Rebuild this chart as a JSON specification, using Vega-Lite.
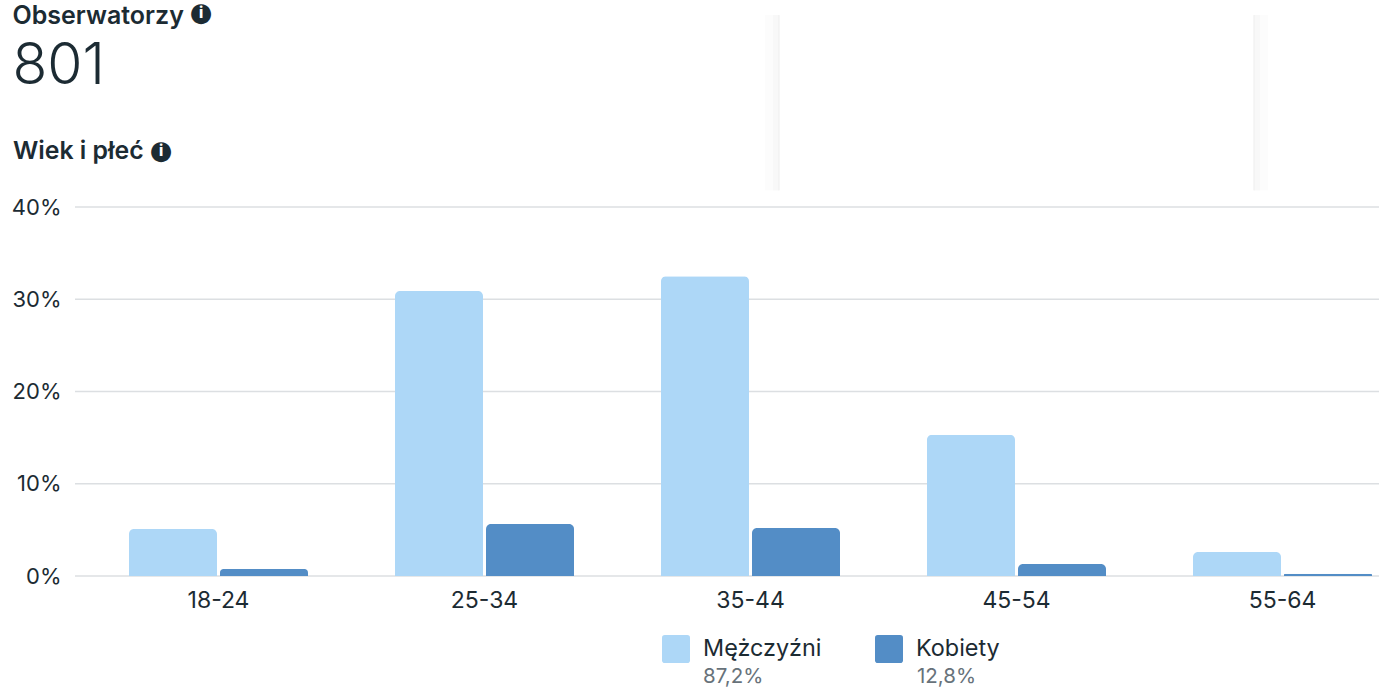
{
"$schema":"https://vega.github.io/schema/vega-lite/v6.json",
"width":1304,"height":369,
"autosize":{"type":"none"},
"padding":{"left":75,"top":207,"right":0,"bottom":120},
"background":"#ffffff",
"config":{"view":{"stroke":null},"font":"Inter"},
"title":{"text":"Obserwatorzy","subtitle":"801","anchor":"start","frame":"group","dx":-62.5,"offset":-95,"font":"Inter","fontSize":25,"fontWeight":600,"color":"#1c2b33","subtitleFont":"Inter","subtitleFontSize":57,"subtitleFontWeight":300,"subtitleColor":"#1c2b33","subtitlePadding":10},
"layer":[
{"data":{"values":[{"tick":0},{"tick":0.1},{"tick":0.2},{"tick":0.3},{"tick":0.4}]},
 "mark":{"type":"rule","color":"#dcdfe2","strokeWidth":1.5},
 "encoding":{"y":{"field":"tick","type":"quantitative"}}},
{"data":{"values":[{"panel":"left edge"}]},"mark":{"type":"rule","color":"#000000","opacity":0.012,"strokeWidth":14},
 "encoding":{"x":{"datum":"35-44","type":"nominal","bandPosition":0.58},"y":{"datum":0.418,"type":"quantitative"},"y2":{"datum":0.608}}},
{"data":{"values":[{"panel":"left edge"}]},"mark":{"type":"rule","color":"#000000","opacity":0.015,"strokeWidth":6},
 "encoding":{"x":{"datum":"35-44","type":"nominal","bandPosition":0.595},"y":{"datum":0.418,"type":"quantitative"},"y2":{"datum":0.608}}},
{"data":{"values":[{"panel":"left edge"}]},"mark":{"type":"rule","color":"#ececec","strokeWidth":1},
 "encoding":{"x":{"datum":"35-44","type":"nominal","bandPosition":0.607},"y":{"datum":0.418,"type":"quantitative"},"y2":{"datum":0.608}}},
{"data":{"values":[{"panel":"right edge"}]},"mark":{"type":"rule","color":"#000000","opacity":0.012,"strokeWidth":14},
 "encoding":{"x":{"datum":"55-64","type":"nominal","bandPosition":0.42},"y":{"datum":0.418,"type":"quantitative"},"y2":{"datum":0.608}}},
{"data":{"values":[{"panel":"right edge"}]},"mark":{"type":"rule","color":"#000000","opacity":0.015,"strokeWidth":6},
 "encoding":{"x":{"datum":"55-64","type":"nominal","bandPosition":0.405},"y":{"datum":0.418,"type":"quantitative"},"y2":{"datum":0.608}}},
{"data":{"values":[{"panel":"right edge"}]},"mark":{"type":"rule","color":"#ececec","strokeWidth":1},
 "encoding":{"x":{"datum":"55-64","type":"nominal","bandPosition":0.393},"y":{"datum":0.418,"type":"quantitative"},"y2":{"datum":0.608}}},
{"data":{"values":[
{"age":"18-24","gender":"Mężczyźni","share":0.051},
{"age":"18-24","gender":"Kobiety","share":0.0075},
{"age":"25-34","gender":"Mężczyźni","share":0.309},
{"age":"25-34","gender":"Kobiety","share":0.0565},
{"age":"35-44","gender":"Mężczyźni","share":0.325},
{"age":"35-44","gender":"Kobiety","share":0.052},
{"age":"45-54","gender":"Mężczyźni","share":0.153},
{"age":"45-54","gender":"Kobiety","share":0.013},
{"age":"55-64","gender":"Mężczyźni","share":0.026},
{"age":"55-64","gender":"Kobiety","share":0.0025}
]},
"mark":{"type":"bar","cornerRadiusTopLeft":5,"cornerRadiusTopRight":5},
"encoding":{
"x":{"field":"age","type":"nominal","sort":null,
 "scale":{"domain":["18-24","25-34","35-44","45-54","55-64"],"range":[10.5,1340.5],"paddingInner":0,"paddingOuter":0},
 "axis":{"title":null,"labelAngle":0,"labelAlign":"center","labelBaseline":"top","ticks":false,"domain":false,"grid":false,"labelFont":"Inter","labelFontSize":23,"labelColor":"#1c2b33","labelPadding":13,"labelFontWeight":400}},
"xOffset":{"field":"gender","type":"nominal","sort":["Mężczyźni","Kobiety"],"scale":{"domain":["Mężczyźni","Kobiety"],"paddingInner":0.033,"paddingOuter":0.478}},
"y":{"field":"share","type":"quantitative",
 "scale":{"domain":[0,0.4],"nice":false},
 "axis":{"title":"Wiek i płeć","titleAngle":0,"titleAlign":"left","titleBaseline":"alphabetic","titleX":-62.5,"titleY":-49,"titleFont":"Inter","titleFontSize":24.8,"titleFontWeight":600,"titleColor":"#1c2b33","values":[0,0.1,0.2,0.3,0.4],"format":".0%","ticks":false,"domain":false,"grid":false,"labelFont":"Inter","labelFontSize":22,"labelColor":"#1c2b33","labelPadding":14}},
"color":{"field":"gender","type":"nominal",
 "scale":{"domain":["Mężczyźni","Kobiety"],"range":["#add7f7","#538dc6"]},
 "legend":{"title":null,"orient":"none","legendX":587,"legendY":428,"direction":"horizontal","columns":2,"padding":0,"columnPadding":53,"symbolSize":784,"symbolStrokeWidth":0,"symbolOpacity":1,"symbolType":"M-0.8,-1 H0.8 Q1,-1 1,-0.8 V0.8 Q1,1 0.8,1 H-0.8 Q-1,1 -1,0.8 V-0.8 Q-1,-1 -0.8,-1 Z","labelFont":"Inter","labelFontSize":23.4,"labelColor":"#1c2b33","labelOffset":13}}
}},
{"data":{"values":[{"gender":"Mężczyźni","label":"87,2%"}]},
 "mark":{"type":"text","font":"Inter","fontSize":20.5,"color":"#67727a","align":"left","dx":-47.5},
 "encoding":{"text":{"field":"label"},"x":{"datum":"35-44","type":"nominal"},"y":{"datum":-0.1095,"type":"quantitative"}}},
{"data":{"values":[{"gender":"Kobiety","label":"12,8%"}]},
 "mark":{"type":"text","font":"Inter","fontSize":20.5,"color":"#67727a","align":"left","dx":-99.5},
 "encoding":{"text":{"field":"label"},"x":{"datum":"45-54","type":"nominal"},"y":{"datum":-0.1095,"type":"quantitative"}}},
{"data":{"values":[{"icon":"●"}]},
 "mark":{"type":"text","font":"DejaVu Sans","fontSize":26,"color":"#1c2b33","align":"center","dx":-17.5},
 "encoding":{"text":{"field":"icon"},"x":{"datum":"18-24","type":"nominal"},"y":{"datum":0.6103,"type":"quantitative"}}},
{"data":{"values":[{"icon":"i"}]},
 "mark":{"type":"text","font":"Inter","fontWeight":800,"fontSize":15,"color":"#ffffff","align":"center","dx":-17.5},
 "encoding":{"text":{"field":"icon"},"x":{"datum":"18-24","type":"nominal"},"y":{"datum":0.6103,"type":"quantitative"}}},
{"data":{"values":[{"icon":"●"}]},
 "mark":{"type":"text","font":"DejaVu Sans","fontSize":26,"color":"#1c2b33","align":"center","dx":-57.5},
 "encoding":{"text":{"field":"icon"},"x":{"datum":"18-24","type":"nominal"},"y":{"datum":0.4607,"type":"quantitative"}}},
{"data":{"values":[{"icon":"i"}]},
 "mark":{"type":"text","font":"Inter","fontWeight":800,"fontSize":15,"color":"#ffffff","align":"center","dx":-57.5},
 "encoding":{"text":{"field":"icon"},"x":{"datum":"18-24","type":"nominal"},"y":{"datum":0.4607,"type":"quantitative"}}}
]
}
